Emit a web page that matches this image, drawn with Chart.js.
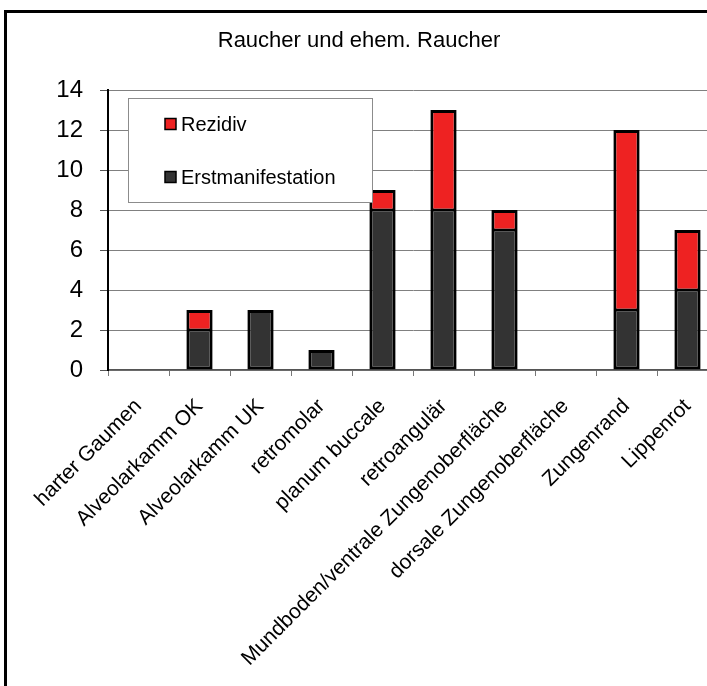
<!DOCTYPE html>
<html>
<head>
<meta charset="utf-8">
<script src="https://cdn.jsdelivr.net/npm/chart.js@4/dist/chart.umd.min.js"></script>
<style>
  html, body { margin: 0; padding: 0; background: #fff; overflow: hidden; width: 707px; height: 686px; }
  #wrap { position: relative; width: 707px; height: 686px; overflow: hidden; }
  #frame { position: absolute; left: 4px; top: 10px; width: 900px; height: 900px;
           border-left: 3px solid #000; border-top: 3px solid #000; box-sizing: border-box; pointer-events: none; }
  #c { position: absolute; left: 0; top: 0; }
</style>
</head>
<body>
<div id="wrap">
  <canvas id="c" width="740" height="686" style="width:740px;height:686px"></canvas>
  <div id="frame"></div>
</div>
<script>
const chartTitle = 'Raucher und ehem. Raucher';
const categories = [
  'harter Gaumen',
  'Alveolarkamm OK',
  'Alveolarkamm UK',
  'retromolar',
  'planum buccale',
  'retroangulär',
  'Mundboden/ventrale Zungenoberfläche',
  'dorsale Zungenoberfläche',
  'Zungenrand',
  'Lippenrot'
];
const seriesNames = ['Erstmanifestation', 'Rezidiv'];
const erstmanifestation = [0, 2, 3, 1, 8, 8, 7, 0, 3, 4];
const rezidiv = [0, 1, 0, 0, 1, 5, 1, 0, 9, 3];
const yTicks = [0, 2, 4, 6, 8, 10, 12, 14];

const FONT = "'Liberation Sans', Arial, sans-serif";
const EDGE = 3;

// Boxed legend drawn inside the plot area, newest series listed first
const boxLegend = {
  id: 'boxLegend',
  afterDatasetsDraw(chart) {
    const ctx = chart.ctx;
    const x0 = 128.5, y0 = 98.5, w = 244, h = 104;
    ctx.save();
    ctx.fillStyle = '#fff';
    ctx.fillRect(x0, y0, w, h);
    ctx.strokeStyle = '#8c8c8c';
    ctx.lineWidth = 1;
    ctx.strokeRect(x0, y0, w, h);
    const items = chart.data.datasets.map(d => d).reverse();
    const rows = [124, 177];
    ctx.font = '20px ' + FONT;
    ctx.textBaseline = 'middle';
    ctx.textAlign = 'left';
    items.forEach((ds, i) => {
      const cy = rows[i];
      ctx.fillStyle = ds.backgroundColor;
      ctx.fillRect(165, cy - 5.5, 11, 11);
      ctx.strokeStyle = '#000';
      ctx.lineWidth = 1.5;
      ctx.strokeRect(165, cy - 5.5, 11, 11);
      ctx.fillStyle = '#000';
      ctx.fillText(ds.label, 181, cy + 1);
    });
    ctx.restore();
  }
};

new Chart(document.getElementById('c'), {
  type: 'bar',
  data: {
    labels: categories,
    datasets: [
      {
        label: seriesNames[0],
        data: erstmanifestation,
        backgroundColor: '#333333',
        borderColor: '#000000',
        // halve the edge where a red segment sits on top, so the joint stays one line thick
        borderWidth: c => ({ left: EDGE, right: EDGE, bottom: EDGE,
                             top: rezidiv[c.dataIndex] > 0 ? EDGE / 2 : EDGE }),
        borderSkipped: false
      },
      {
        label: seriesNames[1],
        data: rezidiv,
        backgroundColor: '#ee2222',
        borderColor: '#000000',
        borderWidth: c => ({ left: EDGE, right: EDGE, top: EDGE,
                             bottom: erstmanifestation[c.dataIndex] > 0 ? EDGE / 2 : EDGE }),
        borderSkipped: false
      }
    ]
  },
  options: {
    responsive: false,
    animation: false,
    devicePixelRatio: 1,
    layout: { padding: { left: 0, right: 22, top: 0, bottom: 0 } },
    datasets: { bar: { categoryPercentage: 1, barPercentage: 0.43 } },
    plugins: {
      legend: { display: false },
      tooltip: { enabled: false },
      title: {
        display: true,
        text: chartTitle,
        color: '#000',
        font: { family: FONT, size: 22, weight: 'normal' },
        padding: { top: 28, bottom: 35.6 }
      }
    },
    scales: {
      x: {
        stacked: true,
        offset: true,
        grid: { display: true, drawOnChartArea: false, drawTicks: true, tickLength: 6, color: '#777', offset: true },
        border: { display: true, color: '#555', width: 1.5 },
        ticks: {
          color: '#000',
          font: { family: FONT, size: 21 },
          minRotation: 45,
          maxRotation: 45,
          autoSkip: false,
          padding: 18
        },
        afterFit(scale) { scale.height = 316; }
      },
      y: {
        stacked: true,
        min: 0,
        max: 14,
        afterBuildTicks(scale) { scale.ticks = yTicks.map(v => ({ value: v })); },
        grid: { color: '#808080', lineWidth: 1, drawTicks: true, tickLength: 8, tickColor: '#555' },
        border: { display: true, color: '#000', width: 2 },
        ticks: {
          color: '#000',
          font: { family: FONT, size: 24 },
          padding: 17
        },
        afterFit(scale) { scale.width = 108; }
      }
    }
  },
  plugins: [boxLegend]
});
</script>
</body>
</html>
